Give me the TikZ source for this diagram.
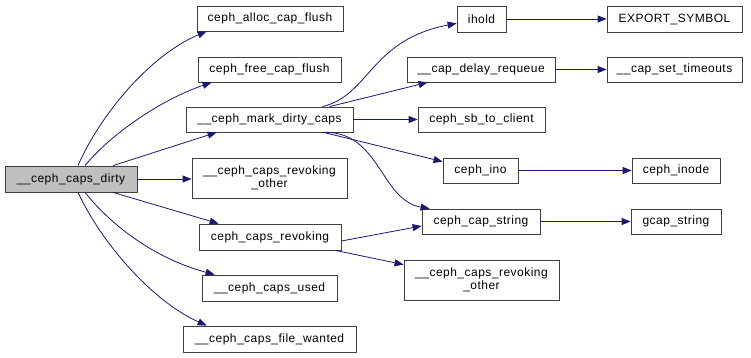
\documentclass[tikz,border=0pt]{standalone}
\usepackage{fontspec}
\setmainfont{Liberation Sans}[LetterSpace=4]
\usepackage{xcolor}
\usetikzlibrary{arrows.meta}

\definecolor{callblue}{HTML}{191970}

\begin{document}
\begin{tikzpicture}[x=1pt,y=-1pt]
	\tikzstyle{fn}=[draw=black!75, fill=white, line width=0.8pt, inner sep=0pt, minimum height=25pt, align=center, font=\fontsize{12}{13}\selectfont]
	\tikzstyle{call}=[draw=callblue, line width=0.8pt, -{Triangle[length=9pt,width=7pt]}]

	\useasboundingbox (0,0) rectangle (751,357);

	\draw node[fn, fill=black!25, minimum width=132pt, minimum height=26pt] at (71,179) (root) {\_\_ceph\_caps\_dirty};

	\draw node[fn, minimum width=146pt] at (270,18.5) (alloc) {ceph\_alloc\_cap\_flush};
	\draw node[fn, minimum width=143pt] at (269.5,69.5) (free) {ceph\_free\_cap\_flush};
	\draw node[fn, minimum width=167pt] at (269.5,119.5) (mark) {\_\_ceph\_mark\_dirty\_caps};
	\draw node[fn, minimum width=155pt, minimum height=40pt] at (269.5,178) (rother) {\_\_ceph\_caps\_revoking\\\_other};
	\draw node[fn, minimum width=142pt, minimum height=26pt] at (270,237) (revoking) {ceph\_caps\_revoking};
	\draw node[fn, minimum width=135pt, minimum height=26pt] at (269.5,288) (used) {\_\_ceph\_caps\_used};
	\draw node[fn, minimum width=173pt, minimum height=26pt] at (269.5,339) (wanted) {\_\_ceph\_caps\_file\_wanted};

	\draw node[fn, minimum width=49pt, minimum height=26pt] at (481.5,19) (ihold) {ihold};
	\draw node[fn, minimum width=148pt] at (481,69.5) (delay) {\_\_cap\_delay\_requeue};
	\draw node[fn, minimum width=127pt] at (481.5,119.5) (sb) {ceph\_sb\_to\_client};
	\draw node[fn, minimum width=75pt] at (480.5,170.5) (ino) {ceph\_ino};
	\draw node[fn, minimum width=118pt] at (481,221.5) (capstr) {ceph\_cap\_string};
	\draw node[fn, minimum width=155pt, minimum height=40pt] at (481.5,280) (rother2) {\_\_ceph\_caps\_revoking\\\_other};

	\draw node[fn, minimum width=135pt, minimum height=26pt] at (674.5,19) (export) {EXPORT\_SYMBOL};
	\draw node[fn, minimum width=135pt] at (674.5,69.5) (timeouts) {\_\_cap\_set\_timeouts};
	\draw node[fn, minimum width=88pt] at (676,170.5) (inode) {ceph\_inode};
	\draw node[fn, minimum width=90pt] at (676,221.5) (gcap) {gcap\_string};

	% calls made by __ceph_caps_dirty
	\draw[call] ([xshift=7pt]root.north) .. controls (100,115) and (150,55) .. ([xshift=10pt]alloc.south west);
	\draw[call] ([xshift=14pt]root.north) .. controls (110,135) and (160,100) .. ([xshift=14pt]free.south west);
	\draw[call] ([xshift=42pt]root.north) -- ([xshift=31pt]mark.south west);
	\draw[call] (root.east) -- (root.east -| rother.west);
	\draw[call] ([xshift=42pt]root.south) -- ([xshift=20pt]revoking.north west);
	\draw[call] ([xshift=14pt]root.south) .. controls (115,230) and (160,260) .. ([xshift=13pt]used.north west);
	\draw[call] ([xshift=7pt]root.south) .. controls (100,240) and (150,300) .. ([xshift=24pt]wanted.north west);

	% calls made by __ceph_mark_dirty_caps
	\draw[call] ([xshift=53pt]mark.north) .. controls (370,95) and (370,40) .. ([yshift=9pt]ihold.south west);
	\draw[call] ([xshift=60pt]mark.north) -- ([xshift=21pt]delay.south west);
	\draw[call] (mark) -- (sb);
	\draw[call] ([xshift=54pt]mark.south) -- ([yshift=-4pt]ino.north west);
	\draw[call] ([xshift=53pt]mark.south) .. controls (380,130) and (380,200) .. ([xshift=8pt]capstr.north west);

	% calls made by ceph_caps_revoking
	\draw[call] ([yshift=-4pt]revoking.east) -- ([yshift=-4.5pt]capstr.west);
	\draw[call] ([xshift=-6pt]revoking.south east) -- ([yshift=-5pt]rother2.north west);

	\draw[call] (ihold) -- (export);
	\draw[call] (delay) -- (timeouts);
	\draw[call] (ino) -- (inode);
	\draw[call] (capstr) -- (gcap);
\end{tikzpicture}
\end{document}
